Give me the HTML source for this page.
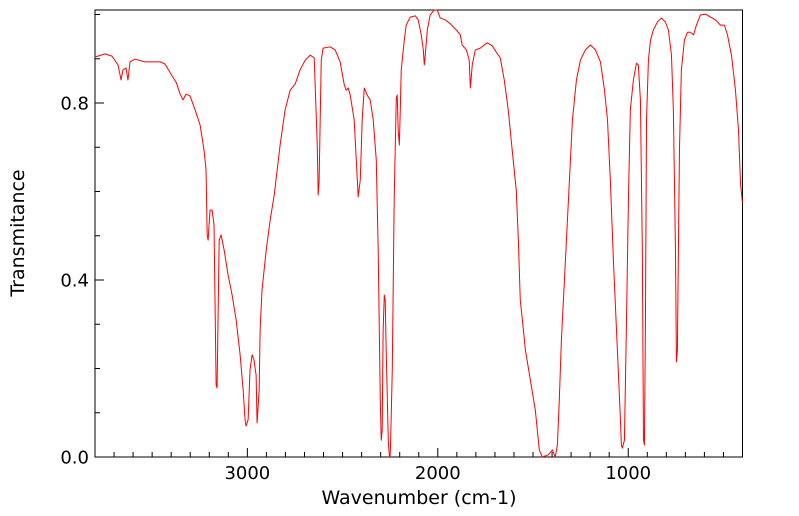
<!DOCTYPE html>
<html><head><meta charset="utf-8"><style>
html,body{margin:0;padding:0;background:#fff;width:799px;height:516px;overflow:hidden}
svg text{font-family:"DejaVu Sans","Liberation Sans",sans-serif;fill:#000}
</style></head><body>
<svg id="chart" width="799" height="516" xmlns="http://www.w3.org/2000/svg">
<rect x="95" y="10" width="647.5" height="447" fill="none" stroke="#000" stroke-width="1"/>
<g id="xticks"></g>
<g id="yticks"></g>
<text x="419" y="504" font-size="19" text-anchor="middle">Wavenumber (cm-1)</text>
<text transform="translate(24,233) rotate(-90)" font-size="19" text-anchor="middle">Transmitance</text>
<polyline id="spec" fill="none" stroke="#ff0000" stroke-width="1" stroke-linejoin="round"/>
</svg>
<script>
const wavenumbers=[3800,3747,3711,3679,3663,3653,3637,3627,3616,3590,3537,3458,3432,3395,3374,3353,3338,3322,3301,3274,3248,3227,3217,3211,3206,3196,3185,3175,3164,3159,3148,3138,3122,3101,3080,3059,3038,3022,3012,3007,2996,2986,2975,2965,2954,2949,2938,2933,2923,2901,2880,2859,2828,2802,2775,2749,2723,2696,2670,2649,2633,2628,2623,2612,2602,2565,2539,2513,2491,2481,2470,2460,2439,2428,2418,2407,2397,2386,2371,2355,2339,2323,2313,2302,2297,2292,2287,2281,2276,2271,2260,2255,2250,2245,2239,2229,2218,2213,2208,2202,2197,2192,2176,2166,2145,2118,2103,2087,2076,2071,2066,2055,2040,2019,2003,1987,1961,1934,1903,1882,1872,1850,1835,1829,1819,1803,1777,1756,1740,1714,1693,1672,1651,1630,1609,1588,1577,1567,1556,1540,1514,1488,1467,1451,1420,1398,1388,1383,1372,1362,1351,1335,1314,1293,1272,1251,1225,1199,1172,1146,1125,1109,1094,1078,1057,1041,1036,1031,1020,1010,999,989,973,957,947,936,926,920,915,910,904,894,883,868,847,826,805,789,773,763,752,747,742,731,721,705,689,673,657,642,621,594,568,542,516,495,479,458,437,421,410,400];
const transmittance=[0.904,0.911,0.906,0.886,0.852,0.875,0.879,0.852,0.893,0.899,0.893,0.893,0.888,0.861,0.847,0.820,0.807,0.820,0.816,0.784,0.750,0.692,0.649,0.502,0.490,0.558,0.558,0.524,0.163,0.156,0.490,0.502,0.468,0.411,0.366,0.310,0.231,0.151,0.084,0.070,0.084,0.197,0.231,0.219,0.185,0.077,0.151,0.287,0.377,0.468,0.536,0.592,0.705,0.784,0.829,0.843,0.875,0.897,0.908,0.902,0.705,0.592,0.626,0.897,0.924,0.927,0.920,0.893,0.841,0.829,0.834,0.818,0.762,0.671,0.588,0.626,0.762,0.834,0.818,0.807,0.762,0.671,0.468,0.129,0.038,0.061,0.287,0.366,0.355,0.242,0.038,0.005,0.0,0.084,0.197,0.581,0.811,0.818,0.739,0.705,0.784,0.875,0.942,0.976,0.994,0.997,0.988,0.954,0.920,0.886,0.908,0.965,0.999,1.010,1.010,0.992,0.988,0.979,0.965,0.954,0.931,0.920,0.897,0.834,0.886,0.920,0.924,0.931,0.936,0.929,0.915,0.902,0.852,0.784,0.692,0.603,0.490,0.355,0.310,0.242,0.174,0.106,0.016,0.0,0.005,0.016,0.005,0.0,0.027,0.129,0.264,0.400,0.581,0.762,0.852,0.897,0.920,0.931,0.920,0.893,0.830,0.762,0.626,0.445,0.242,0.084,0.027,0.020,0.038,0.287,0.581,0.784,0.852,0.890,0.886,0.807,0.468,0.038,0.027,0.287,0.762,0.897,0.942,0.965,0.983,0.992,0.983,0.965,0.908,0.784,0.468,0.215,0.242,0.694,0.875,0.942,0.960,0.960,0.954,0.976,0.999,1.001,0.994,0.988,0.976,0.976,0.954,0.908,0.829,0.739,0.615,0.574];
const yTickValues=[0,0.4,0.8];
const yTickLabels=["0.0","0.4","0.8"];
const xTickValues=[3000,2000,1000];
const xTickLabels=["3000","2000","1000"];
const NS="http://www.w3.org/2000/svg";
const X0=95,X1=742.5,Y0=457,Y1=10,WMAX=3800,WMIN=400,TMIN=0,TMAX=1.0102;
function xs(w){return X0+(WMAX-w)/(WMAX-WMIN)*(X1-X0);}
function ys(t){return Y0-(t-TMIN)/(TMAX-TMIN)*(Y0-Y1);}
const pl=document.getElementById('spec');
pl.setAttribute('points',wavenumbers.map((w,i)=>xs(w).toFixed(2)+','+ys(transmittance[i]).toFixed(2)).join(' '));
const xg=document.getElementById('xticks'),yg=document.getElementById('yticks');
function line(g,x1,y1,x2,y2,name){const l=document.createElementNS(NS,'line');l.setAttribute('x1',x1);l.setAttribute('y1',y1);l.setAttribute('x2',x2);l.setAttribute('y2',y2);l.setAttribute('stroke','#000');l.setAttribute('stroke-width','1');


g.appendChild(l);}
for(let w=3700;w>=500;w-=100){const x=xs(w);const major=w%1000===0;line(xg,x,Y0,x,Y0-(major?9:5),major?'x-major-tick':'x-minor-tick');}
for(let k=1;k<=10;k++){const t=k/10;const y=ys(t);const major=k%4===0;line(yg,X0,y,X0+(major?9:5),y,major?'y-major-tick':'y-minor-tick');}
xTickValues.forEach((v,i)=>{const t=document.createElementNS(NS,'text');t.setAttribute('x',xs(v));t.setAttribute('y',479);t.setAttribute('font-size','18');t.setAttribute('text-anchor','middle');t.textContent=xTickLabels[i];


xg.appendChild(t);});
yTickValues.forEach((v,i)=>{const t=document.createElementNS(NS,'text');t.setAttribute('x',89);t.setAttribute('y',ys(v)+6.5);t.setAttribute('font-size','18');t.setAttribute('text-anchor','end');t.textContent=yTickLabels[i];


yg.appendChild(t);});
</script>
</body></html>
